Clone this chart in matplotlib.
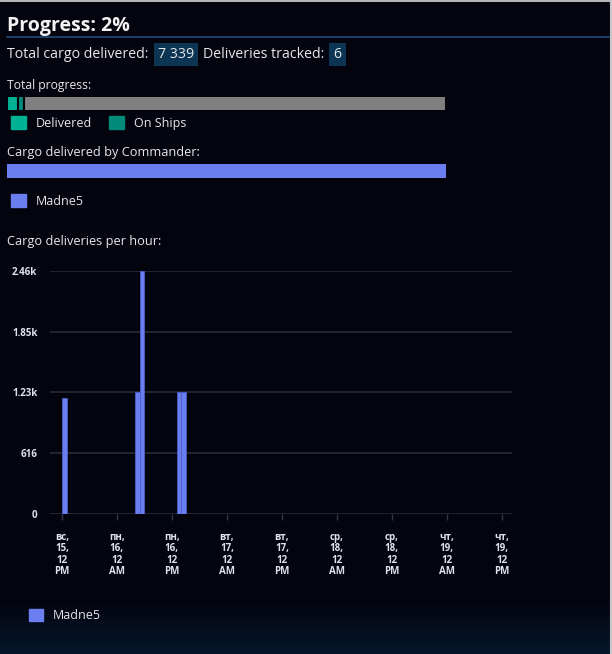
import numpy as np
import matplotlib
matplotlib.use("Agg")
import matplotlib.pyplot as plt
import matplotlib.patches as mpatches
from matplotlib.lines import Line2D

plt.rcParams["font.family"] = ["Open Sans", "DejaVu Sans"]

# data
total_delivered = 7339
deliveries_tracked = 6
on_ships = 3600
target_total = 290000
commanders = ["Madne5"]
commander_cargo = [7339]
delivery_hours = [0, 16, 17, 25, 26]  # hours after Sun 15, 12 PM
delivery_values = [1179, 1232, 2464, 1232, 1232]
y_ticks = [0, 616, 1232, 1848, 2464]
x_ticks = [0, 12, 24, 36, 48, 60, 72, 84, 96]
x_tick_labels = ["вс,\n15,\n12\nPM", "пн,\n16,\n12\nAM", "пн,\n16,\n12\nPM",
                 "вт,\n17,\n12\nAM", "вт,\n17,\n12\nPM", "ср,\n18,\n12\nAM",
                 "ср,\n18,\n12\nPM", "чт,\n19,\n12\nAM", "чт,\n19,\n12\nPM"]

BG = "#04040f"
TXT = "#e6e6ea"
TEAL = "#00b294"
TEAL_DARK = "#008a7a"
GRAY = "#808080"
BLUE = "#6a7ef0"

W, H = 612, 654
fig = plt.figure(figsize=(W / 100, H / 100), dpi=100)
fig.patch.set_facecolor(BG)


def fx(px):
    return px / W


def fy(py):
    return 1 - py / H


def box(x0, y0, x1, y1):
    return [fx(x0), fy(y1), fx(x1) - fx(x0), fy(y0) - fy(y1)]


# background with a faint gradient at the bottom
bg_ax = fig.add_axes([0, 0, 1, 1], zorder=-10)
grad = np.zeros((H, 1, 3))
c0 = np.array([4, 4, 15]) / 255
c1 = np.array([4, 22, 42]) / 255
t = np.clip((np.arange(H) - 600) / (H - 600), 0, 1)[:, None]
grad[:, 0, :] = c0 * (1 - t) + c1 * t
bg_ax.imshow(grad, aspect="auto", extent=[0, 1, 0, 1], origin="upper")
bg_ax.axis("off")

# frame edges
fig.add_artist(Line2D([0, 1], [fy(0.5), fy(0.5)], color="#d8d8d8", lw=1.2))
fig.add_artist(Line2D([fx(610.5), fx(610.5)], [0, 1], color="#c8c8c8", lw=1.5))

# header
fig.text(fx(7), fy(31), "Progress: 2%", fontsize=14, weight="bold", color="#f2f2f2")
fig.add_artist(Line2D([fx(7), fx(609)], [fy(37), fy(37)], color="#1d4c7c", lw=1.2))

hl = dict(boxstyle="square,pad=0.3", fc="#0b3552", ec="none")
t1 = fig.text(fx(7), fy(58), "Total cargo delivered:", fontsize=10.2, color=TXT)
a1 = plt.annotate(f"{total_delivered:,}".replace(",", " "), xy=(1, 0), xycoords=t1,
                  xytext=(7, 0), textcoords="offset points", fontsize=10.2, color=TXT,
                  bbox=hl, va="bottom", annotation_clip=False)
a2 = plt.annotate("Deliveries tracked:", xy=(1, 0), xycoords=a1, xytext=(6, 0),
                  textcoords="offset points", fontsize=10.2, color=TXT, va="bottom")
plt.annotate(str(deliveries_tracked), xy=(1, 0), xycoords=a2, xytext=(7, 0),
             textcoords="offset points", fontsize=10.2, color=TXT, bbox=hl, va="bottom")

# total progress bar
fig.text(fx(7), fy(89), "Total progress:", fontsize=8.7, color=TXT)
pax = fig.add_axes(box(7, 97, 446, 110))
segs = [total_delivered, on_ships, target_total - total_delivered - on_ships]
lefts = np.cumsum([0] + segs[:-1])
pax.barh(0, segs, left=lefts, height=1.4, color=[TEAL, TEAL_DARK, GRAY],
         edgecolor=BG, linewidth=1.5)
pax.set_xlim(0, target_total)
pax.set_ylim(-0.5, 0.5)
pax.axis("off")

fig.legend(handles=[mpatches.Patch(color=TEAL, label="Delivered"),
                    mpatches.Patch(color=TEAL_DARK, label="On Ships")],
           loc="upper left", bbox_to_anchor=(fx(11), fy(116)), ncol=2, frameon=False,
           fontsize=9, labelcolor=TXT, handlelength=1.2, handleheight=1.2,
           handletextpad=0.75, columnspacing=1.4, borderpad=0, borderaxespad=0)

# cargo by commander
fig.text(fx(7), fy(156), "Cargo delivered by Commander:", fontsize=9.2, color=TXT)
cax = fig.add_axes(box(7, 164, 446, 178))
cax.barh(0, commander_cargo, height=1, color=BLUE)
cax.set_xlim(0, sum(commander_cargo))
cax.set_ylim(-0.5, 0.5)
cax.axis("off")
fig.legend(handles=[mpatches.Patch(color=BLUE, label=commanders[0])],
           loc="upper left", bbox_to_anchor=(fx(11), fy(194)), frameon=False,
           fontsize=9, labelcolor=TXT, handlelength=1.2, handleheight=1.2,
           handletextpad=0.75, borderpad=0, borderaxespad=0)

# deliveries per hour
fig.text(fx(7), fy(245), "Cargo deliveries per hour:", fontsize=9.2, color=TXT)
ax = fig.add_axes(box(50, 271, 512, 514))
ax.set_facecolor("none")
ax.bar(delivery_hours, delivery_values, width=1, align="edge", color=BLUE,
       edgecolor="#4c5ec8", linewidth=0.6, zorder=3, label=commanders[0])
ax.set_xlim(-2.6, 98.2)
ax.set_ylim(0, y_ticks[-1])
ax.set_yticks(y_ticks)
ax.set_yticklabels([f"{v / 1000:.2f}k" if v >= 1000 else str(v) for v in y_ticks])
ax.set_xticks(x_ticks)
ax.set_xticklabels(x_tick_labels, linespacing=1.05)
for s in ax.spines.values():
    s.set_visible(False)
ax.grid(axis="y", color="#2a2a3c", linewidth=1.2, zorder=0)
ax.tick_params(axis="y", length=0, pad=9, labelsize=7, labelcolor="#dde2ee")
ax.tick_params(axis="x", length=4, width=1, color="#35354a", pad=9, labelsize=7,
               labelcolor="#dde2ee")
for lbl in ax.get_xticklabels() + ax.get_yticklabels():
    lbl.set_fontweight("bold")

fig.legend(handles=[mpatches.Patch(color=BLUE, label=commanders[0])],
           loc="upper left", bbox_to_anchor=(fx(29), fy(609)), frameon=False,
           fontsize=9, labelcolor=TXT, handlelength=1.1, handleheight=1.1,
           handletextpad=0.8, borderpad=0, borderaxespad=0)

fig.savefig("out.png", dpi=100, facecolor=BG)
